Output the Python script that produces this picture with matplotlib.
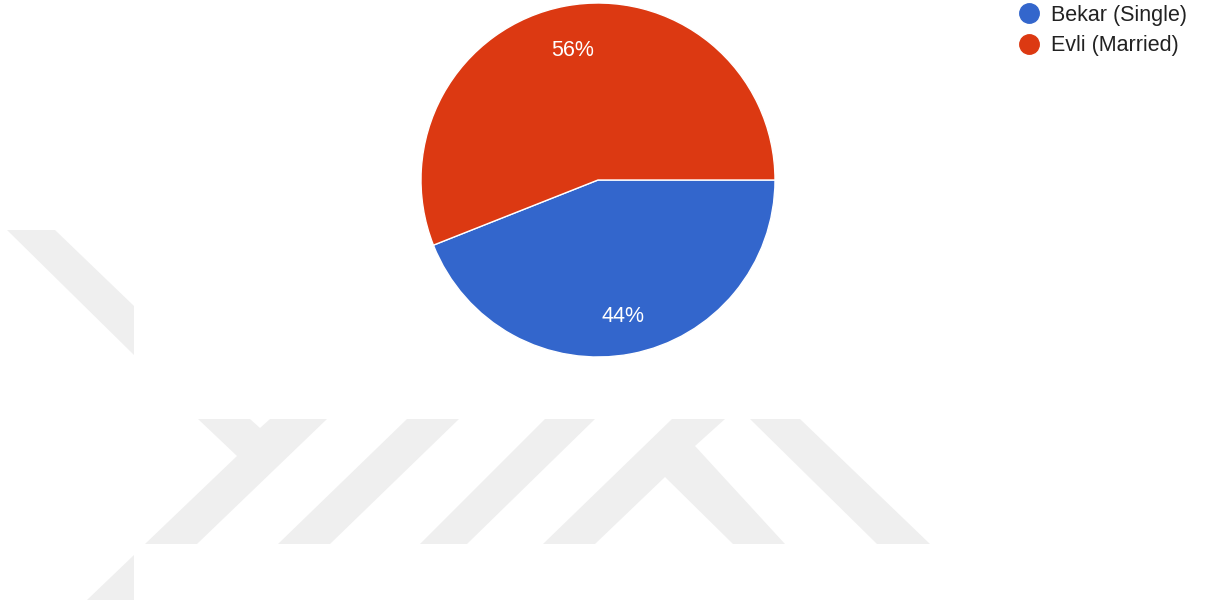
import matplotlib.pyplot as plt
from matplotlib.patches import Polygon
from matplotlib.lines import Line2D

plt.rcParams['font.family'] = ['Liberation Sans', 'DejaVu Sans']

# data
labels = ['Bekar (Single)', 'Evli (Married)']
shares = [44, 56]
colors = ['#3366cc', '#dc3912']

# light grey background emblem, pixel coordinates
emblem = [
    [(7, 230), (55, 230), (134, 306), (134, 355)],
    [(87, 600), (134, 600), (134, 555)],
    [(198, 419), (250, 419), (260, 428), (270, 419), (327, 419),
     (197, 544), (145, 544), (237, 456)],
    [(407, 419), (459, 419), (330, 544), (278, 544)],
    [(545, 419), (595, 419), (467, 544), (420, 544)],
    [(543, 544), (672, 419), (725, 419), (695, 446), (785, 544),
     (733, 544), (665, 477), (595, 544)],
    [(750, 419), (800, 419), (930, 544), (877, 544)],
]

W, H = 1216, 607
fig = plt.figure(figsize=(W / 100, H / 100), dpi=100)

bg = fig.add_axes([0, 0, 1, 1])
bg.set_xlim(0, W)
bg.set_ylim(H, 0)
bg.axis('off')
for pts in emblem:
    bg.add_patch(Polygon(pts, closed=True, facecolor='#efefef', edgecolor='none'))

# pie: centre (598, 180), radius 177 px
cx, cy, r = 598, 180, 177
ax = fig.add_axes([(cx - r) / W, (H - cy - r) / H, 2 * r / W, 2 * r / H])
wedges, texts, pcts = ax.pie(shares, colors=colors, startangle=0, counterclock=False,
                             autopct='%1.0f%%', pctdistance=0.765,
                             wedgeprops=dict(edgecolor='white', linewidth=1),
                             textprops=dict(color='white', fontsize=15.5))
# nudge percentage labels down a touch
for p in pcts:
    x, y = p.get_position()
    p.set_position((x, y - 0.017))
ax.set_xlim(-1, 1)
ax.set_ylim(-1, 1)
ax.set_aspect('equal')

handles = [Line2D([], [], marker='o', linestyle='none', markersize=14,
                  markerfacecolor=c, markeredgecolor=c) for c in colors]
leg = fig.legend(handles, labels, loc='upper left',
                 bbox_to_anchor=(1018 / W, 1 - 5 / H), frameon=False,
                 fontsize=15.5, handlelength=1, handletextpad=0.55,
                 labelspacing=0.42, borderpad=0, borderaxespad=0)
for t in leg.get_texts():
    t.set_color('#222222')

fig.savefig('out.png', dpi=100)
